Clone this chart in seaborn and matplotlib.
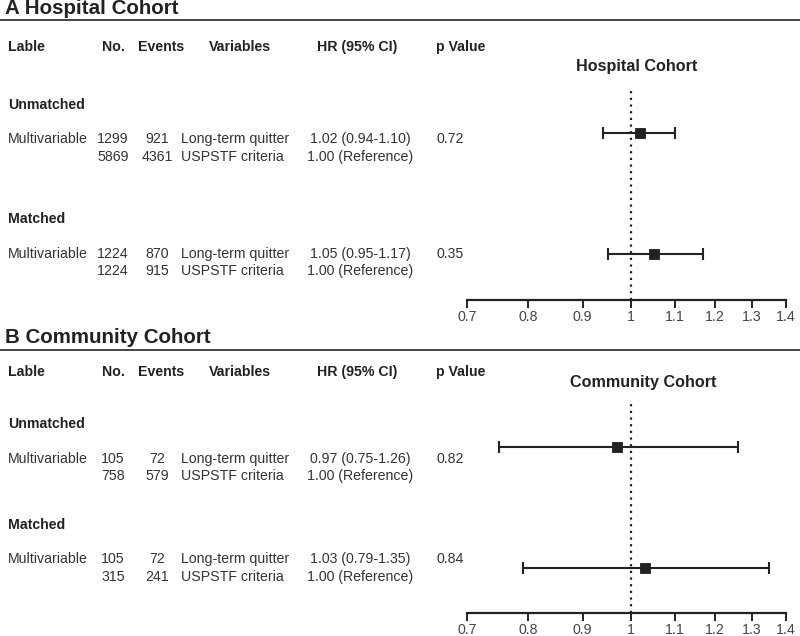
import matplotlib
matplotlib.use('Agg')
import matplotlib.pyplot as plt
import numpy as np
import pandas as pd
import seaborn as sns

sns.set_style('white')
plt.rcParams['font.family'] = ['Liberation Sans', 'DejaVu Sans']

# ---- data ----
panels = ['A Hospital Cohort', 'B Community Cohort']
forest_titles = ['Hospital Cohort', 'Community Cohort']
headers = ['Lable', 'No.', 'Events', 'Variables', 'HR (95% CI)', 'p Value']
groups = ['Unmatched', 'Matched']
label = 'Multivariable'
variables = ['Long-term quitter', 'USPSTF criteria']

hosp_no = [[1299, 5869], [1224, 1224]]
hosp_events = [[921, 4361], [870, 915]]
hosp_hr = [1.02, 1.05]
hosp_lo = [0.94, 0.95]
hosp_hi = [1.10, 1.17]
hosp_p = ['0.72', '0.35']

comm_no = [[105, 758], [105, 315]]
comm_events = [[72, 579], [72, 241]]
comm_hr = [0.97, 1.03]
comm_lo = [0.75, 0.79]
comm_hi = [1.26, 1.35]
comm_p = ['0.82', '0.84']

xticks = [0.7, 0.8, 0.9, 1, 1.1, 1.2, 1.3, 1.4]
xticklabels = ['0.7', '0.8', '0.9', '1', '1.1', '1.2', '1.3', '1.4']

cohorts = [
    dict(no=hosp_no, ev=hosp_events, hr=hosp_hr, lo=hosp_lo, hi=hosp_hi, p=hosp_p),
    dict(no=comm_no, ev=comm_events, hr=comm_hr, lo=comm_lo, hi=comm_hi, p=comm_p),
]

W, H = 800, 636
fig = plt.figure(figsize=(W / 100, H / 100), dpi=100)


def fx(x):
    return x / W


def fy(y):
    return 1 - y / H


TXT = '#333333'
fs = 10.2

# layout per panel (pixel rows)
layouts = [
    dict(title=8, rule=20, head=47, grp=[105, 219], r1=[139, 254], r2=[157, 271],
         ftitle=66, ftx=637, ftop=88, fbot=300, pt=[133, 254]),
    dict(title=337, rule=350, head=372, grp=[424, 525], r1=[459, 559], r2=[476, 577],
         ftitle=382, ftx=643, ftop=400, fbot=613, pt=[447, 568]),
]
head_x = [8, 113, 161, 240, 357, 436]
head_ha = ['left', 'center', 'center', 'center', 'center', 'left']

for k, (c, L) in enumerate(zip(cohorts, layouts)):
    fig.text(fx(5), fy(L['title']), panels[k], fontsize=14.8, fontweight='bold',
             color='#222222', ha='left', va='center')
    fig.add_artist(plt.Line2D([0, 1], [fy(L['rule'])] * 2, color='#444444', lw=1.4))
    for h, x, ha in zip(headers, head_x, head_ha):
        fig.text(fx(x), fy(L['head']), h, fontsize=fs, fontweight='bold',
                 color='#222222', ha=ha, va='center')
    for g in range(2):
        fig.text(fx(8), fy(L['grp'][g]), groups[g], fontsize=fs, fontweight='bold',
                 color='#222222', ha='left', va='center')
        fig.text(fx(8), fy(L['r1'][g]), label, fontsize=fs, color=TXT, va='center')
        hr_txt = ['%.2f (%.2f-%.2f)' % (c['hr'][g], c['lo'][g], c['hi'][g]),
                  '1.00 (Reference)']
        for j, yy in enumerate([L['r1'][g], L['r2'][g]]):
            fig.text(fx(113), fy(yy), str(c['no'][g][j]), fontsize=fs, color=TXT,
                     ha='center', va='center')
            fig.text(fx(157), fy(yy), str(c['ev'][g][j]), fontsize=fs, color=TXT,
                     ha='center', va='center')
            fig.text(fx(181), fy(yy), variables[j], fontsize=fs, color=TXT,
                     ha='left', va='center')
            fig.text(fx(360), fy(yy), hr_txt[j], fontsize=fs, color=TXT,
                     ha='center', va='center')
        fig.text(fx(436), fy(L['r1'][g]), c['p'][g], fontsize=fs, color=TXT,
                 ha='left', va='center')

    # forest plot
    x0, x1 = 467, 786
    ax = fig.add_axes([fx(x0), fy(L['fbot']), (x1 - x0) / W, (L['fbot'] - L['ftop']) / H])
    df = pd.DataFrame({'row': [0, 1], 'hr': c['hr'], 'lo': c['lo'], 'hi': c['hi']})
    ax.errorbar(df['hr'], df['row'],
                xerr=[df['hr'] - df['lo'], df['hi'] - df['hr']],
                fmt='none', ecolor='#222222', elinewidth=1.5, capsize=4, capthick=1.5)
    sns.scatterplot(data=df, x='hr', y='row', marker='s', s=60, color='#222222',
                    edgecolor='#222222', ax=ax, zorder=3, legend=False)
    ax.axvline(1, color='#222222', ls=(0, (1, 2)), lw=1.6)
    ax.set_xscale('log')
    ax.set_xlim(0.7, 1.4)
    px_per_row = L['pt'][1] - L['pt'][0]
    ax.set_ylim(1 + (L['fbot'] - L['pt'][1]) / px_per_row,
                -(L['pt'][0] - L['ftop']) / px_per_row)
    ax.set_xticks(xticks)
    ax.set_xticklabels(xticklabels)
    ax.xaxis.set_minor_locator(matplotlib.ticker.NullLocator())
    ax.set_yticks([])
    ax.set_xlabel('')
    ax.set_ylabel('')
    for s in ['top', 'left', 'right']:
        ax.spines[s].set_visible(False)
    ax.spines['bottom'].set_color('#222222')
    ax.spines['bottom'].set_linewidth(1.6)
    ax.tick_params(axis='x', bottom=True, direction='out', length=6, width=1.4,
                   color='#222222', labelsize=10.2, labelcolor='#444444', pad=1.5)
    ax.patch.set_alpha(0)
    fig.text(fx(L['ftx']), fy(L['ftitle']), forest_titles[k], fontsize=11.6,
             fontweight='bold', color='#222222', ha='center', va='center')

fig.savefig('out.png', dpi=100)
